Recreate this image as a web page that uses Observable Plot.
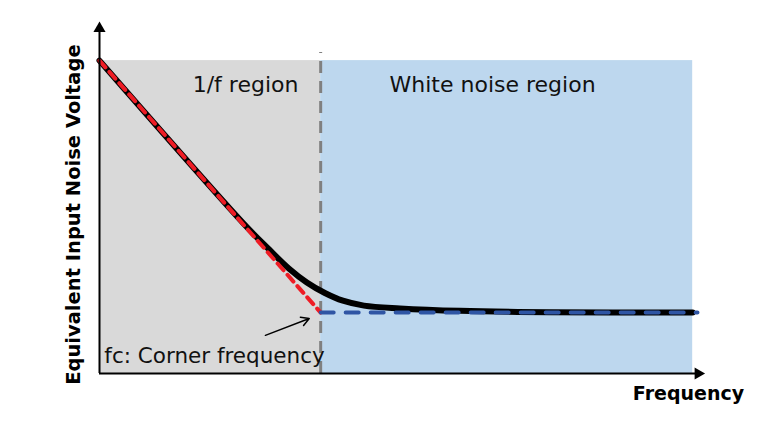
<!DOCTYPE html>
<html>
<head>
<meta charset="utf-8">
<script src="https://cdn.jsdelivr.net/npm/d3@7"></script>
<script src="https://cdn.jsdelivr.net/npm/@observablehq/plot@0.6"></script>
<style>
  html, body { margin: 0; padding: 0; background: #fff; }
  #chart svg { display: block; }
</style>
</head>
<body>
<div id="chart"></div>
<script>
// Abstract log-frequency (x) and log-noise (y) units, 0..100
const regionNames = ["1/f region", "White noise region"];
const regionX1 = [0, 36.8];
const regionX2 = [36.8, 98.7];
const regionTop = 89.4;
const regionFills = ["#d9d9d9", "#bdd7ee"];
const regionLabelX = [24.3, 65.4];
const regionLabelY = 82.3;

const cornerX = 36.8;
const cornerLevel = 17.4;
const cornerLineTop = 91.7;

// 1/f asymptote (red dashed)
const oneOverFX = [0, 36.8];
const oneOverFY = [89.4, 17.4];
// white noise floor (blue dashed)
const whiteX = [36.8, 99.5];
const whiteY = [17.4, 17.4];

// total noise curve (black)
const totalX = [0, 24.0, 28.0, 31.5, 34.5, 37.5, 40.5, 44.0, 50.0, 60.0, 75.0, 98.7];
const totalY = [89.4, 42.8, 35.8, 30.0, 26.0, 23.0, 20.8, 19.4, 18.6, 17.9, 17.5, 17.4];

const annotationText = "fc: Corner frequency";
const xLabel = "Frequency";
const yLabel = "Equivalent Input Noise Voltage";

const regions = regionNames.map((n, i) => ({name: n, x1: regionX1[i], x2: regionX2[i], fill: regionFills[i], lx: regionLabelX[i]}));
const total = totalX.map((x, i) => ({x, y: totalY[i]}));
const oneOverF = oneOverFX.map((x, i) => ({x, y: oneOverFY[i]}));
const white = whiteX.map((x, i) => ({x, y: whiteY[i]}));

const chart = Plot.plot({
  width: 768,
  height: 432,
  marginLeft: 99,
  marginRight: 68,
  marginTop: 23,
  marginBottom: 59,
  x: {domain: [0, 100], axis: null},
  y: {domain: [0, 100], axis: null},
  style: {fontFamily: "'DejaVu Sans', Verdana, sans-serif", background: "#fff"},
  marks: [
    Plot.rectY(regions, {x1: "x1", x2: "x2", y1: 0, y2: regionTop, fill: "fill"}),
    Plot.ruleX([cornerX], {y1: 0, y2: cornerLineTop, stroke: "#808080", strokeWidth: 3, strokeDasharray: "12,8"}),
    Plot.line(total, {x: "x", y: "y", stroke: "#000", strokeWidth: 6, curve: "catmull-rom"}),
    Plot.line(oneOverF, {x: "x", y: "y", stroke: "#ee1c25", strokeWidth: 4, strokeDasharray: "9,6"}),
    Plot.line(white, {x: "x", y: "y", stroke: "#2f55a4", strokeWidth: 4, strokeDasharray: "13,12"}),
    Plot.text(regions, {x: "lx", y: regionLabelY, text: "name", fontSize: 22, fill: "#111"}),
    Plot.text([annotationText], {x: 0.8, y: 4.9, text: d => d, textAnchor: "start", fontSize: 21.5, fill: "#111"}),
    Plot.arrow([{x1: 27.6, y1: 10.9, x2: 34.9, y2: 15.7}], {x1: "x1", y1: "y1", x2: "x2", y2: "y2", stroke: "#000", strokeWidth: 1.5, headLength: 9}),
    // axes with arrowheads
    Plot.ruleY([0], {x1: 0, x2: 99.5, stroke: "#000", strokeWidth: 2}),
    Plot.ruleX([0], {y1: 0, y2: 99, stroke: "#000", strokeWidth: 2}),
    Plot.dot([{x: 0, y: 98.6}], {x: "x", y: "y", symbol: "triangle", r: 4.5, fill: "#000", stroke: null}),
    Plot.dot([{x: 99.6, y: 0}], {x: "x", y: "y", symbol: "triangle", r: 4.5, fill: "#000", stroke: null, rotate: 90}),
    Plot.text([xLabel], {x: 98.0, y: -5.7, text: d => d, fontSize: 19, fontWeight: "bold", fill: "#000"}),
    Plot.text([yLabel], {x: -4.3, y: 45.4, text: d => d, fontSize: 19.5, fontWeight: "bold", fill: "#000", rotate: -90})
  ]
});
document.getElementById("chart").appendChild(chart);
</script>
</body>
</html>
